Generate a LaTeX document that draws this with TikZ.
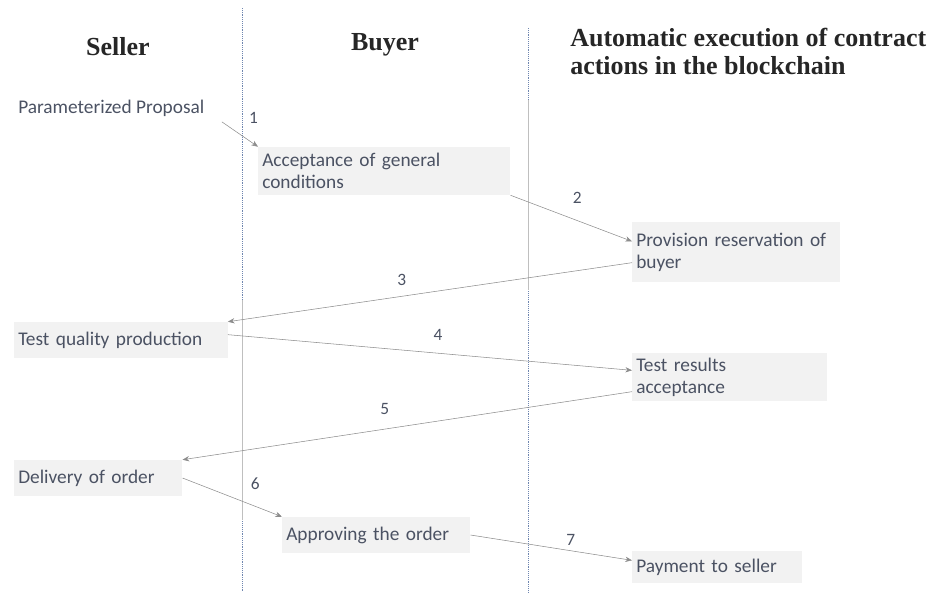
\documentclass[tikz,border=0pt]{standalone}
\usepackage{fontspec}
\usepackage{xcolor}
\usetikzlibrary{arrows.meta, positioning, calc}
\newfontfamily\headfont{Liberation Serif}
\newfontfamily\bodyfont{Carlito}
\definecolor{inkgray}{HTML}{4B5263}
\definecolor{linegray}{HTML}{8C8C8C}
\definecolor{lanedot}{HTML}{6F86B0}

\begin{document}
\begin{tikzpicture}[
        x=0.75pt, y=-0.75pt,
        head/.style={font=\headfont\bfseries\fontsize{19.5}{21}\selectfont, text=black!85, align=left, inner sep=0pt},
        plain/.style={font=\bodyfont\fontsize{14.5}{16.5}\selectfont, text=inkgray, align=left, anchor=west, inner xsep=3pt, inner ysep=2pt},
        stepbox/.style={plain, fill=black!5},
        num/.style={font=\bodyfont\fontsize{13}{13}\selectfont, text=inkgray, inner sep=0pt},
        flow/.style={-{Stealth[length=5pt, width=4pt]}, draw=linegray, thin},
        lane/.style={draw=lanedot, densely dotted, thin}
    ]
        \useasboundingbox (0,0) rectangle (939,596);

        % Lanes
        \draw[lane] (242,8) -- (242,592);
        \draw[lane] (528,28) -- (528,592);
        \draw[black!25, thin] (242,300) -- (242,520);
        \draw[black!25, thin] (528,100) -- (528,290);

        % Headers
        \node[head] (seller) at (118,47) {Seller};
        \node[head] (buyer) at (385,45) {Buyer};
        \node[head, anchor=west] (chain) at (570,51) {Automatic execution of contract\\actions in the blockchain};

        % Steps
        \node[plain] (proposal) at (14,108) {Parameterized Proposal};
        \node[stepbox, text width=183pt, minimum height=36pt] (accept) at (258,171) {Acceptance of general\\conditions};
        \node[stepbox, text width=150pt, minimum height=45pt] (reserve) at (632,252) {Provision reservation of\\buyer};
        \node[stepbox, text width=154pt, minimum height=27pt] (testq) at (14,340) {Test quality production};
        \node[stepbox, text width=140pt, minimum height=36pt] (testres) at (632,377) {Test results\\acceptance};
        \node[stepbox, text width=120pt, minimum height=27pt] (delivery) at (14,478) {Delivery of order};
        \node[stepbox, text width=135pt, minimum height=27pt] (approve) at (282,535) {Approving the order};
        \node[stepbox, text width=121pt, minimum height=24pt] (payment) at (632,567) {Payment to seller};

        % Arrows
        \draw[flow] ([xshift=10pt, yshift=-2pt]proposal.south east) -- (accept.north west)
            node[num, pos=0.3, above right=4pt and 12pt] {1};
        \draw[flow] (accept.south east) -- ([yshift=8pt]reserve.west)
            node[num, pos=0.55, above=13pt] {2};
        \draw[flow] ([yshift=-8pt]reserve.west) -- (testq.north east)
            node[num, pos=0.57, above=8pt] {3};
        \draw[flow] ([yshift=4pt]testq.east) -- ([yshift=5pt]testres.west)
            node[num, pos=0.52, above=9pt] {4};
        \draw[flow] ([yshift=-11pt]testres.west) -- (delivery.north east)
            node[num, pos=0.55, above=11pt] {5};
        \draw[flow] (delivery.east) -- (approve.north west)
            node[num, pos=0.73, above=12pt] {6};
        \draw[flow] (approve.east) -- ([yshift=5pt]payment.west)
            node[num, pos=0.62, above=4pt] {7};
    \end{tikzpicture}
\end{document}
